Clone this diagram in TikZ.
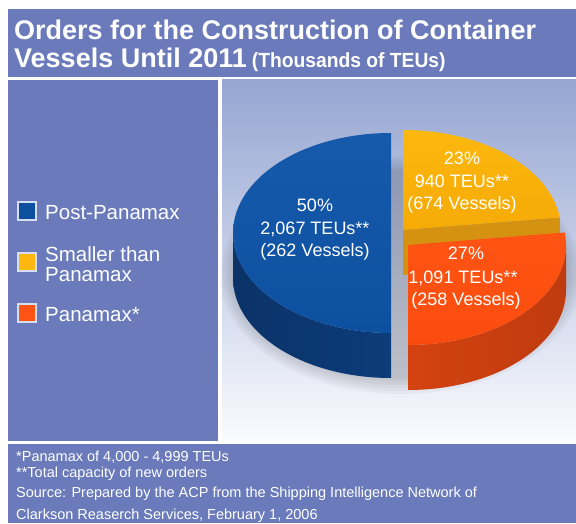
\documentclass[tikz,border=0pt]{standalone}
\usepackage{fontspec}
\setmainfont{Liberation Sans}
\usepackage{graphicx}
\usetikzlibrary{calc}
\definecolor{panel}{RGB}{106,122,186}
\definecolor{bgtop}{RGB}{150,166,210}
\definecolor{bgbot}{RGB}{250,251,254}
\definecolor{blueT}{RGB}{14,80,160}
\definecolor{blueTl}{RGB}{22,90,172}
\definecolor{blueS}{RGB}{12,60,122}
\definecolor{yelT}{RGB}{252,184,14}
\definecolor{yelTd}{RGB}{246,170,6}
\definecolor{yelS}{RGB}{212,146,16}
\definecolor{orT}{RGB}{255,84,20}
\definecolor{orTd}{RGB}{250,76,14}
\definecolor{orS}{RGB}{212,66,16}
\definecolor{legline}{RGB}{215,222,242}
\begin{document}
\begin{tikzpicture}[x=1pt,y=1pt,
  titletext/.style={anchor=base west,inner sep=0pt,text=white,font=\fontsize{27}{30}\selectfont\bfseries},
  legtext/.style={anchor=base west,inner sep=0pt,text=white,font=\fontsize{20.5}{24}\selectfont},
  legbox/.style={draw=legline,line width=1.2pt,minimum size=18pt,inner sep=0pt},
  pietext/.style={anchor=base,inner sep=0pt,text=white,font=\fontsize{18}{22}\selectfont},
  foottext/.style={anchor=base west,inner sep=0pt,text=white,font=\fontsize{14.5}{17}\selectfont}]
\useasboundingbox (0,0) rectangle (576,523);
\fill[white] (0,0) rectangle (576,523);
% panels
\fill[panel] (8,446) rectangle (576,514);
\fill[panel] (8,82) rectangle (218,443);
\shade[top color=bgtop,bottom color=bgbot] (222,82) rectangle (576,443);
\fill[panel] (8,0) rectangle (576,79);
% title
\node[titletext] (t1) at (14,483) {Orders for the Construction of Container};
\node[titletext] (t2) at (14,455) {Vessels Until 2011\hspace{5pt}\scalebox{0.94}[1]{\fontsize{20.5}{24}\selectfont(Thousands of TEUs)}};
% legend
\node[legbox,fill=blueT] (lb) at (27,312) {};
\node[legbox,fill=yelT] (ly) at (27,261) {};
\node[legbox,fill=orT] (lo) at (27,210) {};
\node[legtext] (lbt) at (45,303) {Post-Panamax};
\node[legtext] (lyt1) at (45,261) {Smaller than};
\node[legtext] (lyt2) at (45,241) {Panamax};
\node[legtext] (lot) at (45,201) {Panamax*};
% pie
\coordinate (cb) at (391,290);
\coordinate (cy) at (403,293);
\coordinate (co) at (408,278);
% soft shadow
\foreach \k in {0,...,5}{
  \fill[black,opacity=0.03] (401,248) ellipse[x radius={166pt+3pt*\k},y radius={104pt+3pt*\k}];
}
% yellow
\fill[yelS] (cy) -- ($(cy)+(7.2:158pt and 100pt)$) -- ++(0,-45) -- ($(cy)+(0,-45)$) -- cycle;
\path[top color=yelT,bottom color=yelTd] (cy) -- ($(cy)+(90:158pt and 100pt)$) arc[start angle=90,end angle=7.2,x radius=158pt,y radius=100pt] -- cycle;
% blue
\path[left color=blueS!85!black,right color=blueS] ($(cb)+(180:158pt and 100pt)$) arc[start angle=180,end angle=270,x radius=158pt,y radius=100pt] -- ++(0,-45) arc[start angle=270,end angle=180,x radius=158pt,y radius=100pt] -- cycle;
\path[top color=blueTl,bottom color=blueT] ($(cb)+(90:158pt and 100pt)$) arc[start angle=90,end angle=270,x radius=158pt,y radius=100pt] -- cycle;
% orange
\path[left color=orS,right color=orS!90!black] ($(co)+(0:158pt and 100pt)$) arc[start angle=0,end angle=-90,x radius=158pt,y radius=100pt] -- ++(0,-45) arc[start angle=-90,end angle=0,x radius=158pt,y radius=100pt] -- cycle;
\path[top color=orT,bottom color=orTd] (co) -- ($(co)+(7.2:158pt and 100pt)$) arc[start angle=7.2,end angle=-90,x radius=158pt,y radius=100pt] -- cycle;
% pie labels
\node[pietext] (b1) at (315,311) {50\%};
\node[pietext] (b2) at (315,288) {2,067 TEUs**};
\node[pietext] (b3) at (315,266) {(262 Vessels)};
\node[pietext] (y1) at (462,358) {23\%};
\node[pietext] (y2) at (462,335) {940 TEUs**};
\node[pietext] (y3) at (462,313) {(674 Vessels)};
\node[pietext] (o1) at (466,263) {27\%};
\node[pietext] (o2) at (463,240) {1,091 TEUs**};
\node[pietext] (o3) at (466,218) {(258 Vessels)};
% footer
\node[foottext] (f1) at (16,62) {*Panamax of 4,000 - 4,999 TEUs};
\node[foottext] (f2) at (16,46) {**Total capacity of new orders};
\node[foottext] (f3) at (16,26) {Source: Prepared by the ACP from the Shipping Intelligence Network of};
\node[foottext] (f4) at (16,4) {Clarkson Reaserch Services, February 1, 2006};
\end{tikzpicture}
\end{document}
